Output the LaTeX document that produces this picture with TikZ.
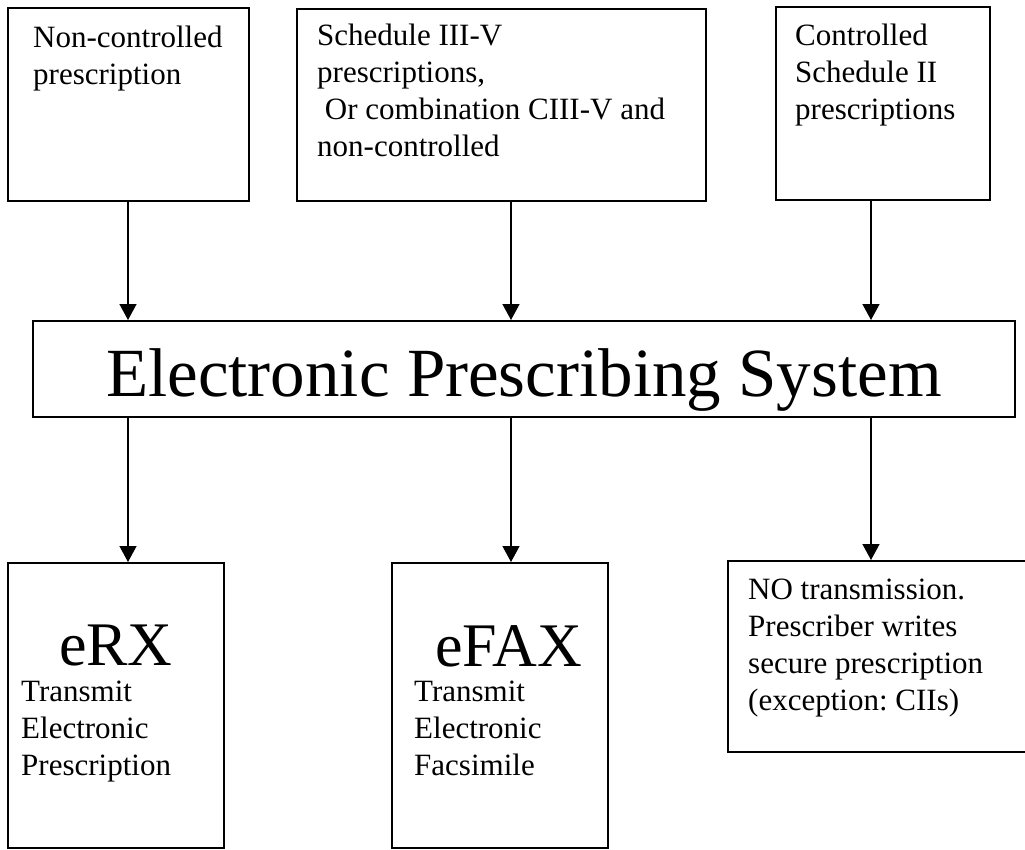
\documentclass[tikz,border=0pt]{standalone}
\usepackage{fontspec}
\setmainfont{Liberation Serif}
\usetikzlibrary{positioning,arrows.meta}
\frenchspacing

\tikzset{
  box/.style={draw, line width=1.8pt, anchor=north west, inner sep=0pt},
  txt/.style={inner sep=0pt, align=left, font=\fontsize{31}{37}\selectfont},
  big/.style={inner sep=0pt, font=\fontsize{62}{70}\selectfont},
}

\begin{document}
\begin{tikzpicture}[x=1pt,y=-1pt,>={Triangle[length=16pt,width=17pt]}]
\clip (0,0) rectangle (1025,849);

%haut
\node[box, minimum width=241pt, minimum height=193pt] (nonctrl) at (7,7) {};
\node[box, minimum width=409pt, minimum height=192pt] (sched) at (296,8) {};
\node[box, minimum width=214pt, minimum height=193pt] (ctrl) at (775,6) {};
\node[txt, below right=19pt and 26pt of nonctrl.north west] (nonctrltxt) {Non-controlled\\prescription};
\node[txt, below right=16pt and 21pt of sched.north west] (schedtxt) {Schedule III-V\\prescriptions,\\\hspace*{0.25em}Or combination CIII-V and\\non-controlled};
\node[txt, below right=18pt and 20pt of ctrl.north west] (ctrltxt) {Controlled\\Schedule II\\prescriptions};
%fin

%milieu
\node[box, minimum width=982pt, minimum height=96pt, text height=56pt, text depth=0pt,
      font=\fontsize{69}{80}\selectfont] (eps) at (32,320) {Electronic Prescribing System};
%fin

%bas
\node[box, minimum width=216pt, minimum height=285pt] (erx) at (7,562) {};
\node[box, minimum width=216pt, minimum height=285pt] (efax) at (391,562) {};
\node[box, minimum width=330pt, minimum height=191pt] (notx) at (727,560) {};
\node[big, below=63pt of erx.north] (erxtitle) {eRX};
\node[big, below=63pt of efax.north, xshift=9pt] (efaxtitle) {eFAX};
\node[txt, below right=119pt and 14pt of erx.north west] (erxtxt) {Transmit\\Electronic\\Prescription};
\node[txt, below right=119pt and 23pt of efax.north west] (efaxtxt) {Transmit\\Electronic\\Facsimile};
\node[txt, below right=19pt and 21pt of notx.north west] (notxtxt) {NO transmission.\\Prescriber writes\\secure prescription\\(exception: CIIs)};
%fin

%flèches
\coordinate (c1) at (128,0);
\coordinate (c2) at (511,0);
\coordinate (c3) at (871,0);
\draw[->, line width=1.4pt] (nonctrl.south -| c1) -- (eps.north -| c1);
\draw[->, line width=1.4pt] (sched.south -| c2) -- (eps.north -| c2);
\draw[->, line width=1.4pt] (ctrl.south -| c3) -- (eps.north -| c3);
\draw[->, line width=1.4pt] (eps.south -| c1) -- (erx.north -| c1);
\draw[->, line width=1.4pt] (eps.south -| c2) -- (efax.north -| c2);
\draw[->, line width=1.4pt] (eps.south -| c3) -- (notx.north -| c3);
%fin
\end{tikzpicture}
\end{document}
